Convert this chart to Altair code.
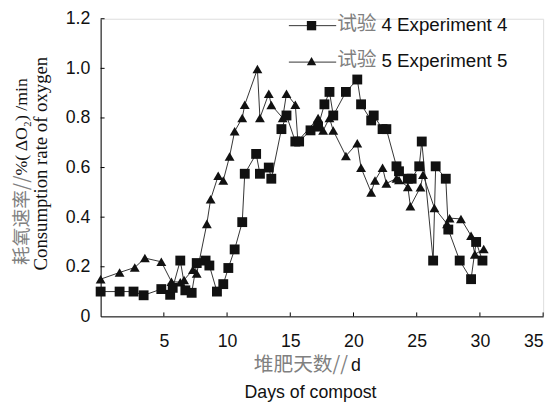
import altair as alt
import pandas as pd

# ---------------- data ----------------
days4 = [0.0, 1.5, 2.6, 3.4, 4.8, 5.5, 5.7, 6.3, 6.7, 7.2, 7.6, 8.3, 8.6, 9.2, 9.7,
         10.1, 10.6, 11.2, 11.4, 12.3, 12.6, 13.3, 13.5, 14.3, 14.7, 15.4, 15.7, 16.6,
         17.2, 17.7, 18.1, 18.4, 19.4, 20.3, 20.6, 21.4, 21.6, 22.3, 22.6, 23.4, 23.6,
         24.3, 24.6, 25.2, 25.4, 26.3, 26.5, 27.3, 27.5, 28.4, 29.3, 29.7, 30.2]
rate4 = [0.10, 0.10, 0.10, 0.085, 0.11, 0.087, 0.115, 0.225, 0.105, 0.095, 0.215, 0.225,
         0.205, 0.10, 0.13, 0.195, 0.27, 0.38, 0.575, 0.655, 0.575, 0.60, 0.555, 0.755,
         0.81, 0.705, 0.705, 0.75, 0.765, 0.855, 0.905, 0.81, 0.905, 0.955, 0.855, 0.79,
         0.81, 0.755, 0.755, 0.605, 0.585, 0.555, 0.555, 0.605, 0.705, 0.225, 0.605,
         0.555, 0.35, 0.225, 0.15, 0.30, 0.225]

days5 = [0.0, 1.5, 2.7, 3.5, 4.8, 5.6, 6.3, 6.6, 7.3, 7.6, 8.4, 8.7, 9.3, 9.7, 10.2,
         10.6, 11.2, 11.4, 12.4, 12.6, 13.3, 13.5, 14.4, 14.7, 15.4, 15.6, 17.2, 17.6,
         18.1, 18.4, 19.4, 20.3, 20.6, 21.4, 21.7, 22.3, 22.6, 23.4, 23.6, 24.3, 24.5,
         25.3, 25.5, 26.4, 27.4, 27.6, 28.5, 29.3, 29.6, 30.3]
rate5 = [0.15, 0.177, 0.197, 0.235, 0.22, 0.14, 0.138, 0.147, 0.188, 0.173, 0.373, 0.472,
         0.567, 0.548, 0.645, 0.746, 0.80, 0.853, 0.997, 0.80, 0.898, 0.852, 0.80, 0.898,
         0.853, 0.706, 0.80, 0.749, 0.80, 0.749, 0.647, 0.698, 0.599, 0.50, 0.548, 0.599,
         0.536, 0.556, 0.55, 0.522, 0.444, 0.521, 0.571, 0.437, 0.373, 0.396, 0.393,
         0.325, 0.25, 0.272]

series_names = ["Experiment 4", "Experiment 5"]
legend_cn = ["试验", "试验"]
legend_en = ["4 Experiment 4", "5 Experiment 5"]

x_ticks = [5, 10, 15, 20, 25, 30, 35]
y_ticks = [0, 0.2, 0.4, 0.6, 0.8, 1.0, 1.2]

x_title_cn = "堆肥天数//"
x_title_unit = "d"
x_title_en = "Days of compost"
y_title_cn = "耗氧速率//"
y_title_rest = "%( ΔO₂) /min"
y_title_en = "Consumption rate of oxygen"

# ---------------- tables ----------------
df4 = pd.DataFrame({"day": days4, "rate": rate4, "series": series_names[0],
                    "i": range(len(days4))})
df5 = pd.DataFrame({"day": days5, "rate": rate5, "series": series_names[1],
                    "i": range(len(days5))})

W, H = 449, 302
SANS = "Liberation Sans"
SERIF = "Liberation Serif"
CJK = "Noto Sans CJK SC"
LINE_C = "#333333"
MARK_C = "#111111"

xs = alt.Scale(domain=[0, 35], nice=False, zero=False)
ys = alt.Scale(domain=[0, 1.2], nice=False)

x_axis = alt.Axis(values=x_ticks, grid=False, ticks=False, domainColor="black",
                  domainWidth=1, labelFont=SANS, labelFontSize=18, labelColor="#111",
                  labelPadding=17, title=None)
y_axis = alt.Axis(values=y_ticks, grid=False, ticks=False, domainColor="black",
                  domainWidth=1, labelFont=SANS, labelFontSize=18, labelColor="#111",
                  labelPadding=11, title=None,
                  labelExpr="datum.value == 0 ? '0' : format(datum.value, '.1f')")


def series_layers(df, shape):
    base = alt.Chart(df)
    line = base.mark_line(color=LINE_C, strokeWidth=1).encode(
        x=alt.X("day:Q", scale=xs, axis=x_axis),
        y=alt.Y("rate:Q", scale=ys, axis=y_axis),
        order="i:Q",
    )
    pts = base.mark_point(shape=shape, filled=True, color=MARK_C, opacity=1,
                          size=100).encode(
        x=alt.X("day:Q", scale=xs),
        y=alt.Y("rate:Q", scale=ys),
    )
    return line, pts


l5, p5 = series_layers(df5, "triangle-up")
l4, p4 = series_layers(df4, "square")

# inward ticks
xt = alt.Chart(pd.DataFrame({"day": x_ticks})).mark_rule(color="black", strokeWidth=1).encode(
    x=alt.X("day:Q", scale=xs), y=alt.value(H), y2=alt.value(H - 4))
yt = alt.Chart(pd.DataFrame({"rate": y_ticks[1:]})).mark_rule(color="black", strokeWidth=1).encode(
    y=alt.Y("rate:Q", scale=ys), x=alt.value(0), x2=alt.value(4))

# legend (manual)
leg_rows = [7, 44]
leg = []
for k, (shape, ry) in enumerate(zip(["square", "triangle-up"], leg_rows)):
    d = pd.DataFrame({"cn": [legend_cn[k]], "en": [legend_en[k]]})
    c = alt.Chart(d)
    leg.append(c.mark_rule(color=LINE_C, strokeWidth=1).encode(
        x=alt.value(191), x2=alt.value(239), y=alt.value(ry)))
    leg.append(c.mark_point(shape=shape, filled=True, color=MARK_C, opacity=1,
                            size=90).encode(x=alt.value(214), y=alt.value(ry - (1 if k else 0))))
    leg.append(c.mark_text(font=CJK, fontSize=20, color="#808080", align="left",
                           baseline="middle").encode(
        x=alt.value(240), y=alt.value(ry - 2), text="cn:N"))
    leg.append(c.mark_text(font=SANS, fontSize=19, color="#111", align="left",
                           baseline="middle").encode(
        x=alt.value(285), y=alt.value(ry - 1), text="en:N"))

# axis titles (manual)
td = pd.DataFrame({"a": [x_title_cn], "b": [x_title_unit], "c": [x_title_en],
                   "d": [y_title_cn], "e": [y_title_rest], "f": [y_title_en]})
tc = alt.Chart(td)
titles = [
    tc.mark_text(font=CJK, fontSize=20, color="#808080", align="right",
                 baseline="middle").encode(x=alt.value(251), y=alt.value(351), text="a:N"),
    tc.mark_text(font=SANS, fontSize=18, color="#111", align="left",
                 baseline="middle").encode(x=alt.value(254), y=alt.value(352), text="b:N"),
    tc.mark_text(font=SANS, fontSize=18, color="#111", align="center",
                 baseline="middle").encode(x=alt.value(213), y=alt.value(380), text="c:N"),
    tc.mark_text(font=CJK, fontSize=19, color="#808080", align="right", angle=270,
                 baseline="middle").encode(x=alt.value(-80), y=alt.value(159), text="d:N"),
    tc.mark_text(font=SERIF, fontSize=18, color="#111", align="left", angle=270,
                 baseline="middle").encode(x=alt.value(-80), y=alt.value(159), text="e:N"),
    tc.mark_text(font=SERIF, fontSize=19, color="#111", align="center", angle=270,
                 baseline="middle").encode(x=alt.value(-60), y=alt.value(147), text="f:N"),
]

chart = alt.layer(l5, l4, p5, p4, xt, yt, *leg, *titles).properties(
    width=W, height=H,
    autosize=alt.AutoSizeParams(type="none"),
    padding={"left": 94, "top": 8, "right": 9, "bottom": 85},
).configure_view(strokeWidth=0).configure(background="white")

chart.save("out.html", embed_options={"renderer": "svg", "actions": False})
